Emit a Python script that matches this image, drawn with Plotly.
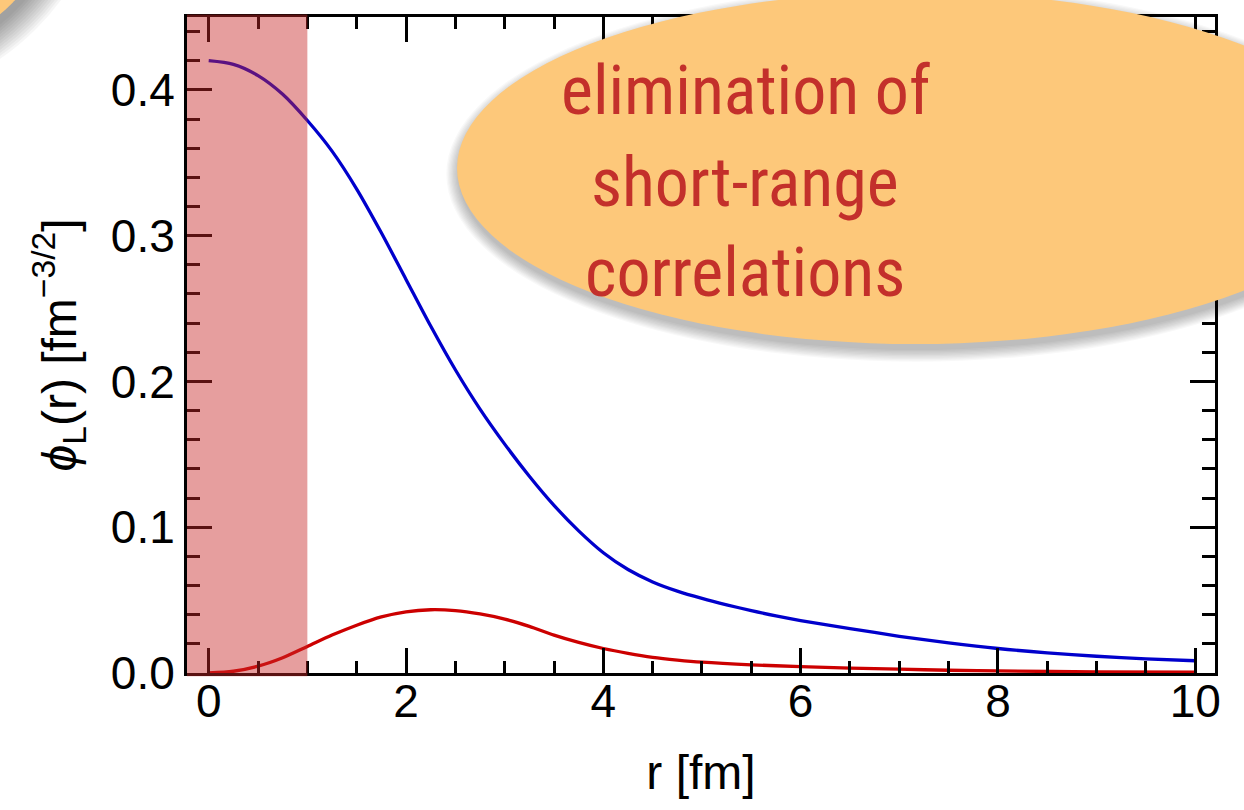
import plotly.graph_objects as go

# ---- data ----
r_blue = [0, 0.25, 0.5, 0.75, 1.0, 1.25, 1.5, 1.75, 2.0, 2.25, 2.5, 2.75, 3.0, 3.25, 3.5, 3.75,
          4.0, 4.25, 4.5, 4.75, 5.0, 5.25, 5.5, 5.75, 6.0, 6.5, 7.0, 7.5, 8.0, 8.5, 9.0, 9.5, 10.0]
phi_blue = [0.420, 0.4175, 0.4098, 0.397, 0.379, 0.358, 0.332, 0.302, 0.270, 0.238, 0.208, 0.181,
            0.157, 0.135, 0.115, 0.0975, 0.0825, 0.0710, 0.0625, 0.0562, 0.0512, 0.0468, 0.0428,
            0.0392, 0.0360, 0.0305, 0.0252, 0.0207, 0.0168, 0.0138, 0.0115, 0.0097, 0.0084]

r_red = [0, 0.25, 0.5, 0.75, 1.0, 1.25, 1.5, 1.75, 2.0, 2.25, 2.5, 2.75, 3.0, 3.25, 3.5, 3.75,
         4.0, 4.25, 4.5, 4.75, 5.0, 5.5, 6.0, 6.5, 7.0, 7.5, 8.0, 9.0, 10.0]
phi_red = [0.0, 0.0012, 0.0047, 0.0105, 0.0182, 0.0260, 0.0328, 0.0385, 0.0420, 0.0434, 0.0428,
           0.0405, 0.0370, 0.0320, 0.0260, 0.0210, 0.0168, 0.0135, 0.0108, 0.0089, 0.0074, 0.0056,
           0.0044, 0.0034, 0.0026, 0.0019, 0.0014, 0.0008, 0.0005]

cutoff_r = 1.0
x_ticks = [0, 2, 4, 6, 8, 10]
y_ticks = [0.0, 0.1, 0.2, 0.3, 0.4]
bubble_text = ["elimination of", "short-range", "correlations"]

W, H = 1244, 810
ML, MR, MT, MB = 187, 29, 17, 137
PW, PH = W - ML - MR, H - MT - MB


def px(x):
    return (x - ML) / PW


def py(y):
    return (H - MB - y) / PH


FONT = "Liberation Sans, Arial, Helvetica, sans-serif"
BUBBLE = "rgb(253,200,122)"

fig = go.Figure()
fig.add_trace(go.Scatter(x=r_blue, y=phi_blue, mode="lines",
                         line=dict(color="#0000cc", width=3.3, shape="spline", smoothing=0.8),
                         showlegend=False))
fig.add_trace(go.Scatter(x=r_red, y=phi_red, mode="lines",
                         line=dict(color="#cc0000", width=3.3, shape="spline", smoothing=0.8),
                         showlegend=False))

shapes = []
# cut-off shading
shapes.append(dict(type="rect", xref="x", yref="paper", x0=-0.22, x1=cutoff_r, y0=-0.005, y1=1.004,
                   fillcolor="rgba(200,40,40,0.45)", line=dict(width=0), layer="above"))


def ellipse(cx, cy, rx, ry, color, dx=0.0, dy=0.0, grow=0.0):
    return dict(type="circle", xref="paper", yref="paper",
                x0=px(cx - rx - grow + dx), x1=px(cx + rx + grow + dx),
                y0=py(cy + ry + grow + dy), y1=py(cy - ry - grow + dy),
                fillcolor=color, line=dict(width=0), layer="above")


# corner bubble (partial) with soft shadow
for i in range(12):
    shapes.append(ellipse(-150, -160, 230, 230, "rgba(0,0,0,0.035)", dx=4, dy=7, grow=2.5 * i))
shapes.append(ellipse(-150, -160, 230, 230, BUBBLE))

# main bubble with soft shadow
for i in range(10):
    shapes.append(ellipse(915, 168, 458, 176, "rgba(0,0,0,0.028)", dx=1, dy=6, grow=1.3 * i))
shapes.append(ellipse(915, 168, 458, 176, BUBBLE))

annotations = []
for line_txt, base in zip(bubble_text, [115, 207, 297]):
    annotations.append(dict(xref="paper", yref="paper", x=px(745), y=py(base - 24), xanchor="center",
                            yanchor="middle", text=line_txt, showarrow=False, align="center",
                            font=dict(family="Liberation Sans Narrow, Roboto Condensed, DejaVu Sans Condensed, Liberation Sans",
                                      size=68, color="#c3302b")))

axis_common = dict(showline=True, linecolor="black", linewidth=3, mirror="allticks", ticks="inside",
                   ticklen=25, tickwidth=2.5, tickcolor="black", showgrid=False, zeroline=False,
                   tickfont=dict(family=FONT, size=46, color="black"))

fig.update_layout(
    width=W, height=H, margin=dict(l=ML, r=MR, t=MT, b=MB),
    paper_bgcolor="white", plot_bgcolor="white",
    shapes=shapes, annotations=annotations,
    xaxis=dict(range=[-0.22, 10.2], tickvals=x_ticks, ticktext=[str(v) for v in x_ticks],
               ticklabelstandoff=-14,
               minor=dict(dtick=0.5, tick0=0, ticks="inside", ticklen=12, tickwidth=2.5, tickcolor="black"),
               title=dict(text="r [fm]", font=dict(family=FONT, size=48, color="black"), standoff=30),
               **axis_common),
    yaxis=dict(range=[0, 0.45], tickvals=y_ticks, ticktext=[f"{v:.1f}" for v in y_ticks],
               minor=dict(dtick=0.02, tick0=0, ticks="inside", ticklen=13, tickwidth=2.5, tickcolor="black"),
               title=dict(text="<i>ϕ</i><sub>L</sub>(r) [fm<sup>−3/2</sup>]",
                          font=dict(family=FONT, size=48, color="black"), standoff=20),
               **axis_common),
)

fig.write_html("out.html")
